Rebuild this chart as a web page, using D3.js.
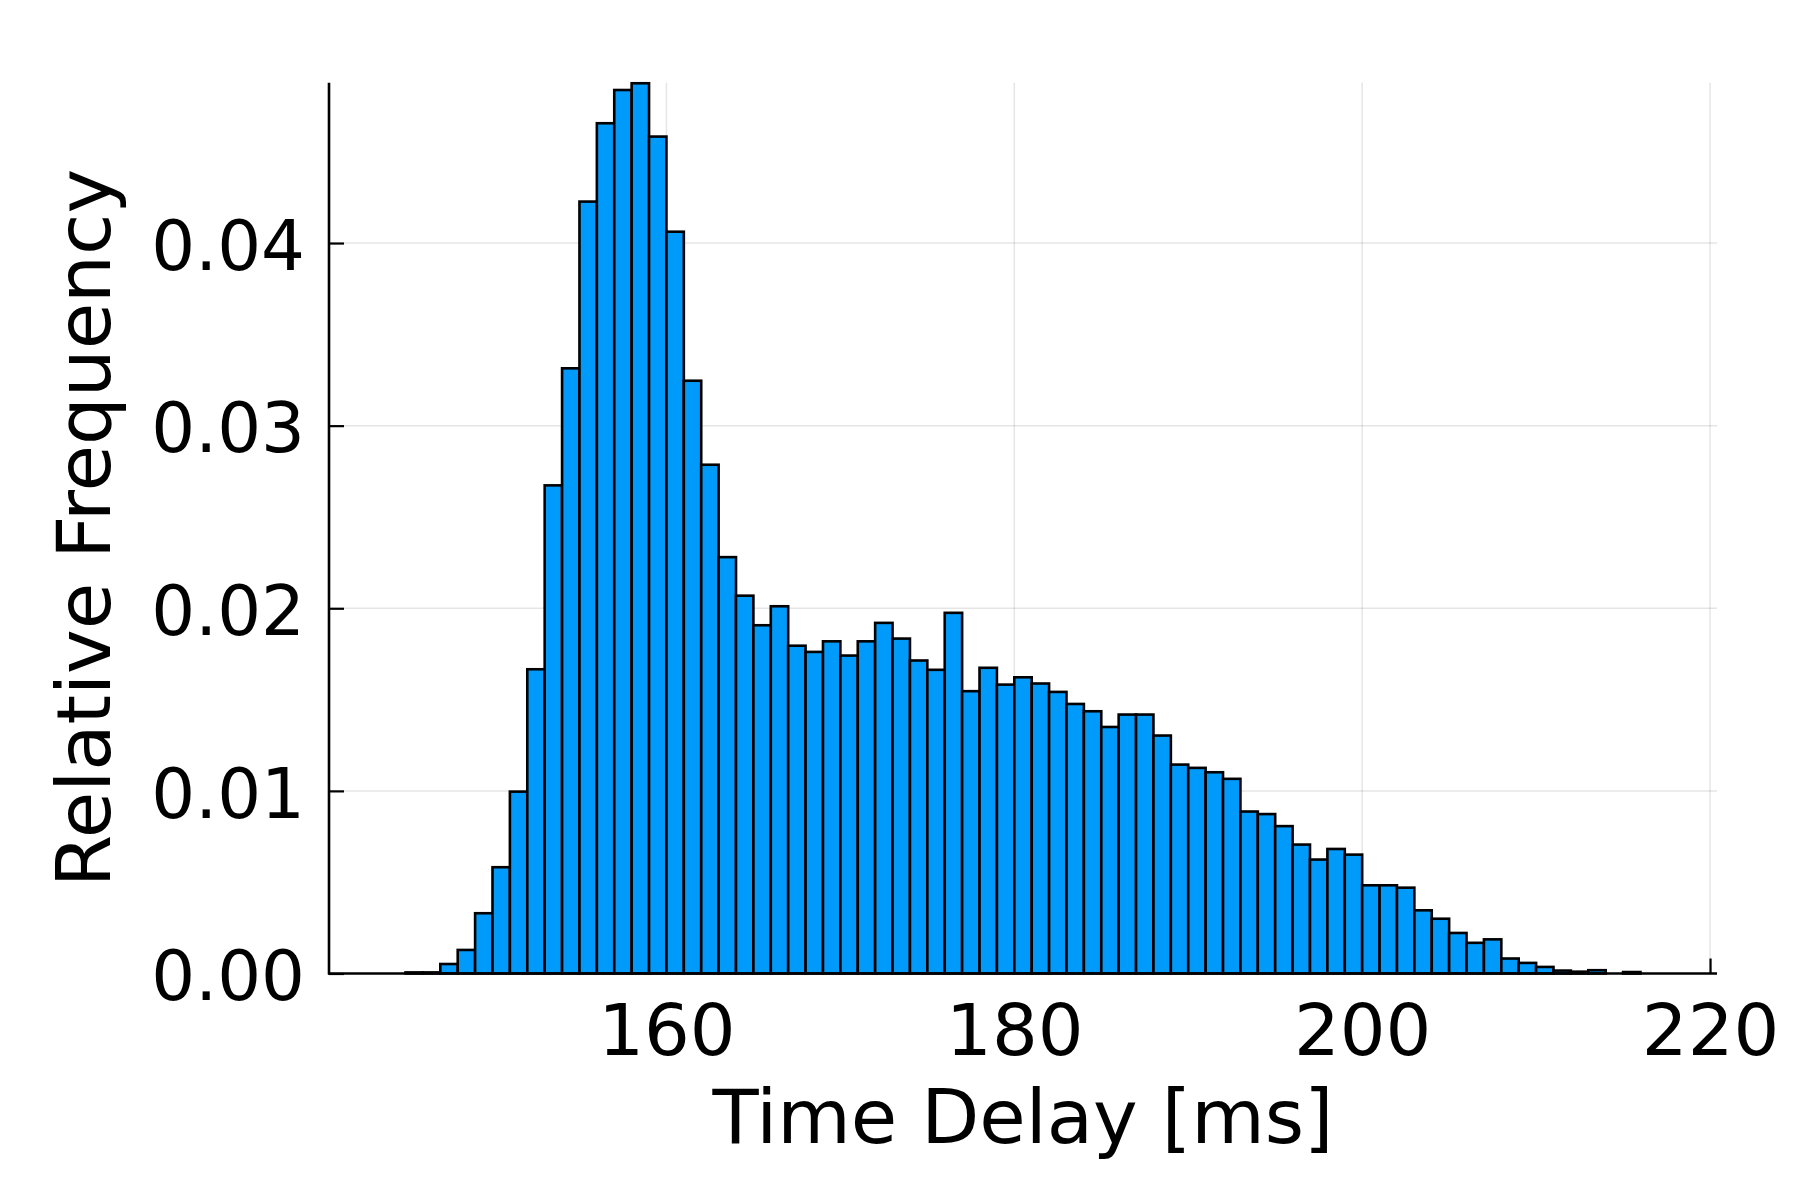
<!DOCTYPE html>
<html>
<head>
<meta charset="utf-8">
<script src="https://cdn.jsdelivr.net/npm/d3@7"></script>
<style>
  html, body { margin: 0; padding: 0; background: #fff; }
  svg { display: block; font-family: "DejaVu Sans", sans-serif; }
</style>
</head>
<body>
<svg id="chart" width="1800" height="1200"></svg>
<script>
// Histogram bins (left edges, 1 ms wide) and relative frequencies
const binStarts = d3.range(143, 218);
const frequencies = [
  0, 0, 0.00006, 0.00006, 0.00052, 0.00129, 0.0033, 0.00582, 0.00996, 0.01666,
  0.02673, 0.03314, 0.04227, 0.04656, 0.04838, 0.04875, 0.04583, 0.04062, 0.03246, 0.02786,
  0.0228, 0.02069, 0.01907, 0.02011, 0.01795, 0.01761, 0.01819, 0.01741, 0.01819, 0.0192,
  0.01834, 0.01714, 0.01663, 0.01975, 0.01546, 0.01674, 0.01582, 0.01622, 0.01588, 0.01542,
  0.01476, 0.01436, 0.0135, 0.01418, 0.01418, 0.01303, 0.01144, 0.01126, 0.01102, 0.01066,
  0.00887, 0.00873, 0.00807, 0.00706, 0.00624, 0.00682, 0.00651, 0.00483, 0.00483, 0.0047,
  0.00346, 0.003, 0.00222, 0.00168, 0.00187, 0.00082, 0.00058, 0.00036, 0.00016, 0.0001,
  0.00018, 0, 0.00008, 0, 0
];
const binWidth = 1;
const xTicks = [160, 180, 200, 220];
const yTicks = [0, 0.01, 0.02, 0.03, 0.04];
const xTitle = "Time Delay [ms]";
const yTitle = "Relative Frequency";

const bins = binStarts.map((s, i) => ({ x0: s, x1: s + binWidth, v: frequencies[i] }));

const L = 329, R = 1717, T = 82.7, B = 973.5;
const x = d3.scaleLinear().domain([140.6, 220.4]).range([L, R]);
const y = d3.scaleLinear().domain([0, 0.04878]).range([B, T]);

const svg = d3.select("#chart");

// grid
const grid = svg.append("g");
grid.selectAll(".gx").data(xTicks).enter().append("line")
  .attr("x1", d => x(d)).attr("x2", d => x(d)).attr("y1", T).attr("y2", B)
  .attr("stroke", "rgba(0,0,0,0.1)").attr("stroke-width", 1.5);
grid.selectAll(".gy").data(yTicks.filter(d => d > 0)).enter().append("line")
  .attr("x1", L).attr("x2", R).attr("y1", d => y(d)).attr("y2", d => y(d))
  .attr("stroke", "rgba(0,0,0,0.1)").attr("stroke-width", 1.5);

// axes (ticks inward)
const xAxis = d3.axisBottom(x).tickValues(xTicks).tickFormat(d3.format("d"))
  .tickSizeInner(-15).tickSizeOuter(0).tickPadding(30);
const yAxis = d3.axisLeft(y).tickValues(yTicks).tickFormat(d3.format(".2f"))
  .tickSizeInner(-15).tickSizeOuter(0).tickPadding(24);

const gx = svg.append("g").attr("transform", `translate(0,${B})`).call(xAxis);
const gy = svg.append("g").attr("transform", `translate(${L},0)`).call(yAxis);
[gx, gy].forEach(g => {
  g.select(".domain").remove();
  g.selectAll(".tick line").attr("stroke", "#000").attr("stroke-width", 2.2);
  g.selectAll(".tick text").attr("fill", "#000")
    .style("font-family", "'DejaVu Sans', sans-serif");
});
gx.selectAll(".tick text").style("font-size", "72px");
gy.selectAll(".tick text").style("font-size", "69px").attr("dy", "0.38em");

// bars
svg.append("g").selectAll("rect").data(bins).enter().append("rect")
  .attr("x", d => x(d.x0))
  .attr("width", d => x(d.x1) - x(d.x0))
  .attr("y", d => y(d.v))
  .attr("height", d => y(0) - y(d.v))
  .attr("fill", "#009AFA")
  .attr("stroke", "#000")
  .attr("stroke-width", 2.6);

// axis lines
svg.append("line").attr("x1", L).attr("x2", L).attr("y1", T).attr("y2", B + 1)
  .attr("stroke", "#000").attr("stroke-width", 2.6);
svg.append("line").attr("x1", L - 1).attr("x2", R).attr("y1", B).attr("y2", B)
  .attr("stroke", "#000").attr("stroke-width", 2.6);

// titles
svg.append("text").attr("x", (L + R) / 2).attr("y", 1143)
  .attr("text-anchor", "middle").style("font-size", "75.5px").attr("fill", "#000")
  .text(xTitle);
svg.append("text").attr("transform", `translate(110,${(T + B) / 2}) rotate(-90)`)
  .attr("text-anchor", "middle").style("font-size", "75.5px").attr("fill", "#000")
  .text(yTitle);
</script>
</body>
</html>
